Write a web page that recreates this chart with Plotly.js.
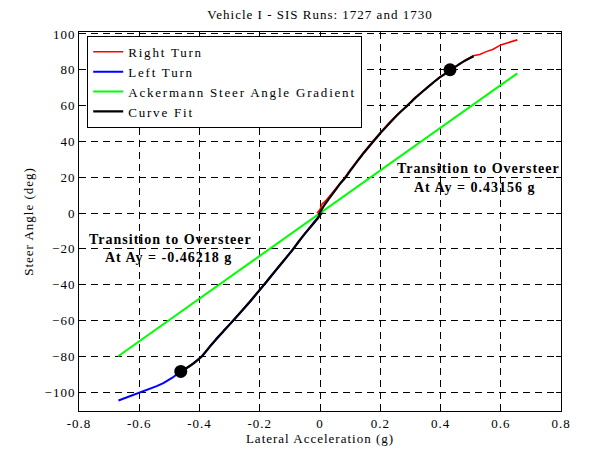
<!DOCTYPE html>
<html>
<head>
<meta charset="utf-8">
<script src="https://cdn.plot.ly/plotly-3.0.1.min.js"></script>
<style>html,body{margin:0;padding:0;background:#fff}#chart{width:591px;height:452px} text{letter-spacing:1px} .legendtext{letter-spacing:1.8px}</style>
</head>
<body>
<div id="chart"></div>
<script>
// Right turn measured data (lateral accel g, steer angle deg)
const rightX = [-0.01, 0.0, 0.007, 0.02, 0.035, 0.05, 0.065, 0.083, 0.10, 0.12, 0.145, 0.175, 0.20, 0.23, 0.26, 0.29, 0.315, 0.34, 0.37, 0.40, 0.435, 0.47, 0.49, 0.508, 0.53, 0.55, 0.575, 0.60, 0.625, 0.655];
const rightY = [0, 2, 5, 7, 10, 13, 16.5, 20, 24, 28.5, 34, 40, 45, 50.5, 55.5, 60, 64.5, 68, 72, 76.3, 80, 84, 86, 87.8, 88.5, 90, 91.5, 93.9, 95, 96.7];
// Left turn measured data
const leftX = [0.01, 0.005, -0.01, -0.03, -0.05, -0.07, -0.088, -0.11, -0.135, -0.16, -0.185, -0.21, -0.235, -0.26, -0.288, -0.315, -0.34, -0.365, -0.392, -0.42, -0.44, -0.462, -0.49, -0.52, -0.542, -0.57, -0.60, -0.625, -0.645, -0.669];
const leftY = [1, 0, -3.5, -7.5, -11.5, -15.8, -20, -24.5, -29.6, -34.8, -40, -45, -50, -54.8, -60, -65, -69.5, -74.5, -80, -84, -86.3, -88.5, -92, -95, -96.7, -98.5, -100, -102, -103, -104.7];
// Ackermann steer angle gradient line
const ackX = [-0.67, 0.655];
const ackY = [-80, 78];
// Curve fit (right branch, gap, left branch)
const fitX = [-0.005, 0.015, 0.03, 0.05, 0.065, 0.083, 0.10, 0.12, 0.145, 0.175, 0.20, 0.23, 0.26, 0.29, 0.315, 0.34, 0.37, 0.40, 0.435, 0.47, 0.51, null, 0.005, -0.01, -0.03, -0.05, -0.07, -0.088, -0.11, -0.135, -0.16, -0.185, -0.21, -0.235, -0.26, -0.288, -0.315, -0.34, -0.365, -0.392, -0.42, -0.44, -0.465];
const fitY = [-1, 4.5, 8, 12.5, 16, 19.5, 23.5, 28, 33.5, 39.5, 44.5, 50, 55.3, 60, 64, 67.7, 72, 76, 80, 84, 87.5, null, 0, -3.5, -7.5, -11.5, -15.8, -20, -24.5, -29.6, -34.8, -40, -45, -50, -54.8, -60, -65, -69.5, -74.5, -80, -84, -86.3, -88.8];
// Transition to oversteer points
const transAy = [0.43156, -0.46218];
const transSteer = [80, -88.5];

const serif = '"Liberation Serif", "Times New Roman", serif';

const traces = [
  {x: rightX, y: rightY, mode: 'lines', name: 'Right Turn', line: {color: '#ff0000', width: 1.6}},
  {x: leftX, y: leftY, mode: 'lines', name: 'Left Turn', line: {color: '#0000ff', width: 2}},
  {x: ackX, y: ackY, mode: 'lines', name: 'Ackermann Steer Angle Gradient', line: {color: '#00ff00', width: 2}},
  {x: fitX, y: fitY, mode: 'lines', name: 'Curve Fit', line: {color: '#000000', width: 2.2, shape: 'spline', smoothing: 0.6}, connectgaps: false},
  {x: transAy, y: transSteer, mode: 'markers', showlegend: false, marker: {color: '#000', size: 13}}
];

const axisCommon = {
  showline: true, linecolor: '#000', linewidth: 1, mirror: 'ticks',
  ticks: 'inside', ticklen: 5, tickcolor: '#000',
  showgrid: true, gridcolor: '#000', gridwidth: 1, griddash: '7px,5px',
  zeroline: false, tickfont: {family: serif, size: 13, color: '#000'}
};

const layout = {
  width: 591, height: 452,
  margin: {l: 79, r: 30, t: 32, b: 41},
  paper_bgcolor: '#fff', plot_bgcolor: '#fff',
  font: {family: serif, color: '#000'},
  title: {text: 'Vehicle I - SIS Runs: 1727 and 1730', font: {family: serif, size: 13, color: '#000'}, xref: 'paper', x: 0.5, xanchor: 'center', yref: 'container', y: 0.969, yanchor: 'middle'},
  xaxis: Object.assign({}, axisCommon, {
    range: [-0.8, 0.8], tickvals: [-0.8, -0.6, -0.4, -0.2, 0, 0.2, 0.4, 0.6, 0.8],
    ticktext: ['-0.8', '-0.6', '-0.4', '-0.2', '0', '0.2', '0.4', '0.6', '0.8'],
    title: {text: 'Lateral Acceleration (g)', font: {family: serif, size: 13, color: '#000'}, standoff: 4}
  }),
  yaxis: Object.assign({}, axisCommon, {
    range: [-110.6, 101.1], tickvals: [-100, -80, -60, -40, -20, 0, 20, 40, 60, 80, 100],
    title: {text: 'Steer Angle (deg)', font: {family: serif, size: 13, color: '#000'}, standoff: 8}
  }),
  legend: {
    x: 0.017, y: 0.99, xanchor: 'left', yanchor: 'top',
    bgcolor: '#fff', bordercolor: '#000', borderwidth: 1,
    font: {family: serif, size: 13, color: '#000'}, tracegroupgap: 0
  },
  showlegend: true,
  annotations: [
    {x: 0.527, y: 24.7, xref: 'x', yref: 'y', text: '<b>Transition to Oversteer</b>', showarrow: false, font: {family: serif, size: 14, color: '#000'}},
    {x: 0.515, y: 14.1, xref: 'x', yref: 'y', text: '<b>At Ay = ' + transAy[0] + ' g</b>', showarrow: false, font: {family: serif, size: 14, color: '#000'}},
    {x: -0.4975, y: -14.9, xref: 'x', yref: 'y', text: '<b>Transition to Oversteer</b>', showarrow: false, font: {family: serif, size: 14, color: '#000'}},
    {x: -0.504, y: -24.9, xref: 'x', yref: 'y', text: '<b>At Ay = ' + transAy[1] + ' g</b>', showarrow: false, font: {family: serif, size: 14, color: '#000'}}
  ]
};

Plotly.newPlot('chart', traces, layout, {displayModeBar: false, staticPlot: true});
</script>
</body>
</html>
